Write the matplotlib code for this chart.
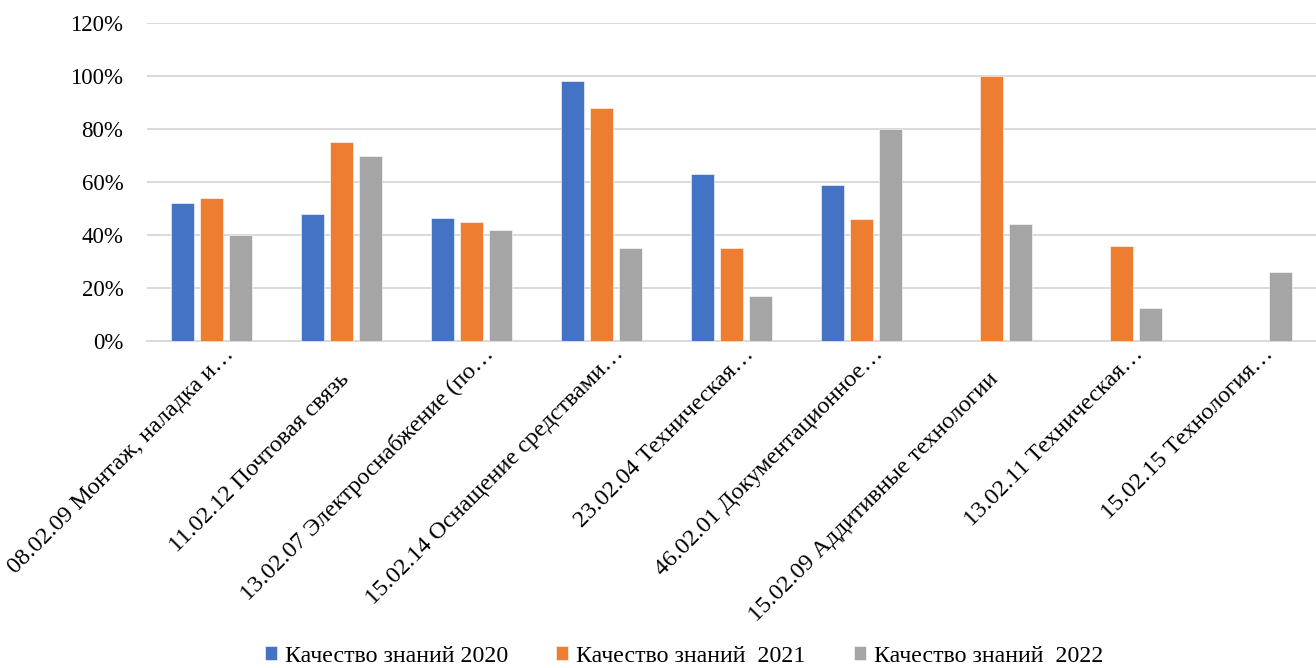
"""
Качество знаний по специальностям, 2020-2022.
"""
import numpy as np
import matplotlib
matplotlib.use("Agg")
import matplotlib.pyplot as plt
from matplotlib.ticker import PercentFormatter

categories = [
    "08.02.09 Монтаж, наладка и…",
    "11.02.12 Почтовая связь",
    "13.02.07 Электроснабжение (по…",
    "15.02.14 Оснащение средствами…",
    "23.02.04 Техническая…",
    "46.02.01 Документационное…",
    "15.02.09 Аддитивные технологии",
    "13.02.11 Техническая…",
    "15.02.15 Технология…",
]
series_names = ["Качество знаний 2020", "Качество знаний  2021", "Качество знаний  2022"]
q2020 = [0.52, 0.48, 0.465, 0.98, 0.63, 0.59, np.nan, np.nan, np.nan]
q2021 = [0.54, 0.75, 0.45, 0.88, 0.35, 0.46, 1.00, 0.36, np.nan]
q2022 = [0.40, 0.70, 0.42, 0.35, 0.17, 0.80, 0.44, 0.125, 0.26]
colors = ["#4472C4", "#ED7D31", "#A5A5A5"]


def main():
    plt.rcParams["font.family"] = ["Liberation Serif", "DejaVu Serif"]
    fig = plt.figure(figsize=(13.16, 6.68), dpi=100)
    ax = fig.add_axes([147 / 1316, 327 / 668, 1 - 147 / 1316, 318 / 668])

    x = np.arange(len(categories))
    step, width = 0.223, 0.177
    for k, (vals, name, col) in enumerate(zip([q2020, q2021, q2022], series_names, colors)):
        ax.bar(x + (k - 1) * step, vals, width, color=col, label=name,
               edgecolor="white", linewidth=0.4, zorder=3)

    ax.set_xlim(-0.5, len(categories) - 0.5)
    ax.set_ylim(0, 1.2)
    ax.set_yticks(np.arange(0, 1.21, 0.2))
    ax.yaxis.set_major_formatter(PercentFormatter(1.0, decimals=0))
    ax.tick_params(axis="y", length=0, pad=17, labelsize=16.5)
    ax.set_xticks([])
    ax.grid(axis="y", color="#d9d9d9", linewidth=1.4, zorder=0)
    for side in ["top", "right", "left"]:
        ax.spines[side].set_visible(False)
    ax.spines["bottom"].set_color("#d9d9d9")
    ax.spines["bottom"].set_linewidth(1.4)
    ax.spines["bottom"].set_zorder(1)

    # rotated category labels, right end placed below each category
    for i, lab in enumerate(categories):
        dx, dy = (23, 14) if lab.endswith("…") else (8, 39)
        ax.annotate(lab, xy=(i, 0), xytext=(dx * 0.72, -dy * 0.72),
                    textcoords="offset points", rotation=45,
                    rotation_mode="anchor", ha="right", va="baseline",
                    fontsize=17.4, annotation_clip=False)

    fig.legend(loc="lower center", bbox_to_anchor=(684 / 1316, -0.03), ncol=3,
               frameon=False, fontsize=17.2, handlelength=0.5, handleheight=0.5,
               handletextpad=0.35, columnspacing=2.0)

    fig.savefig("out.png", dpi=100)
    plt.close(fig)


if __name__ == "__main__":
    main()
